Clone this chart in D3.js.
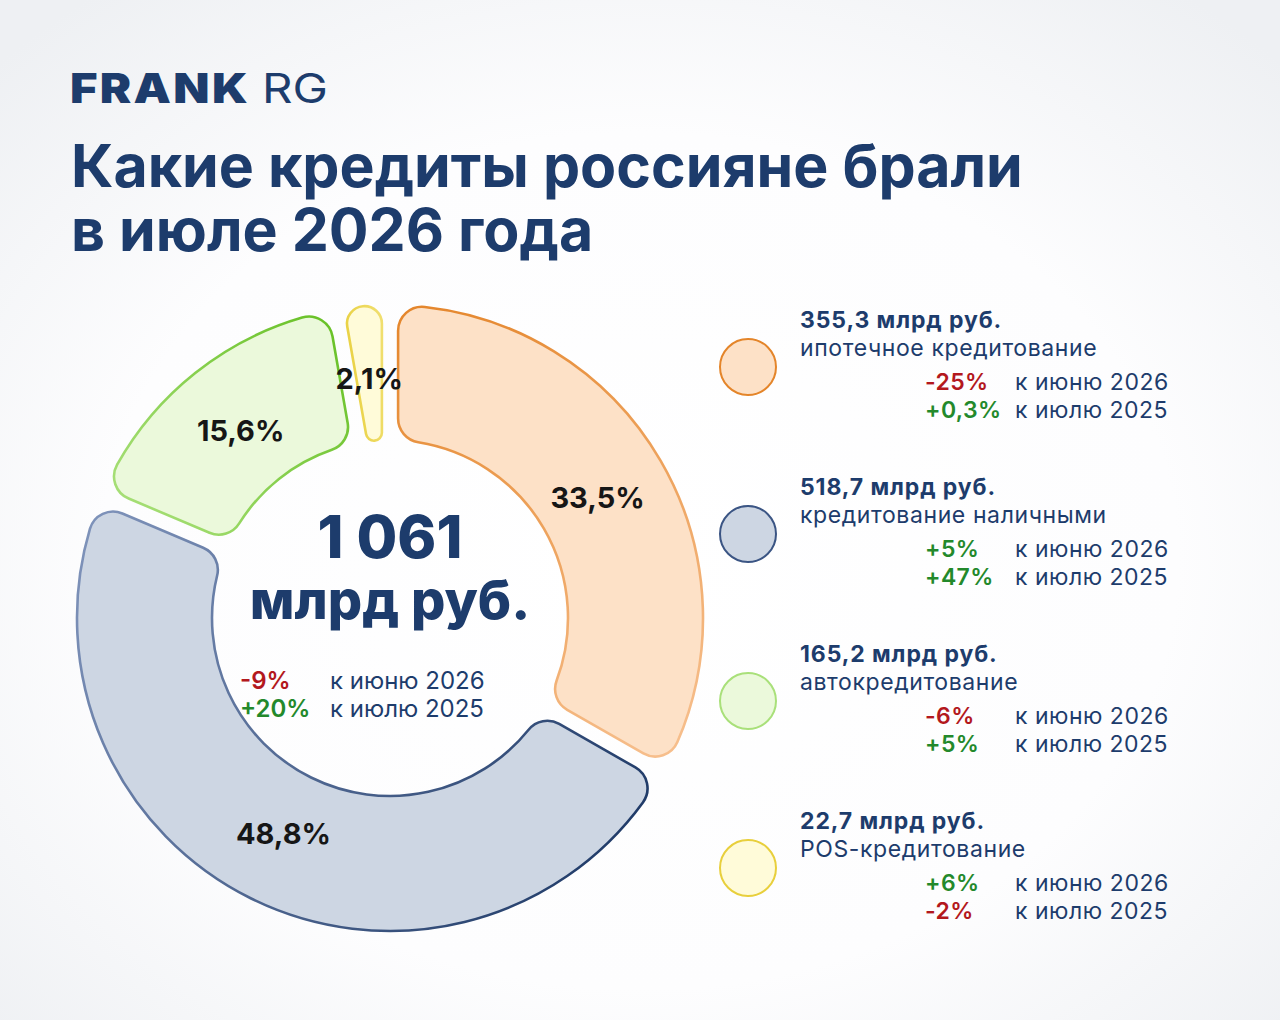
<!DOCTYPE html>
<html>
<head>
<meta charset="utf-8">
<script src="https://cdn.jsdelivr.net/npm/d3@7"></script>
<style>
  html, body { margin: 0; padding: 0; background: #f6f7f9; }
  svg { display: block; font-family: Inter, "Noto Sans", sans-serif; }
</style>
</head>
<body>
<div id="chart"></div>
<script>
// --- data ---
const categories = ["ипотечное кредитование", "кредитование наличными", "автокредитование", "POS-кредитование"];
const shares = [33.5, 48.8, 15.6, 2.1];
const amounts = ["355,3", "518,7", "165,2", "22,7"];
const toJune = ["-25%", "+5%", "-6%", "+6%"];
const toJuly = ["+0,3%", "+47%", "+5%", "-2%"];
const fills = ["#fde1c7", "#cdd6e3", "#ebf9db", "#fffbd9"];
// stroke gradient: [start, end]
const strokes = [["#e4852a", "#f7c08f"], ["#213c69", "#8296bd"], ["#a9e07a", "#66c024"], ["#e8cf3c", "#f2e27a"]];

const total = "1 061";
const totalToJune = "-9%";
const totalToJuly = "+20%";

const navy = "#1d3c6c";
const red = "#b3181d";
const green = "#23892b";

const width = 1280, height = 1020;

const svg = d3.select("#chart")
  .append("svg")
    .attr("width", width)
    .attr("height", height);

// background glow
const defs = svg.append("defs");
const bg = defs.append("radialGradient").attr("id", "bg")
  .attr("cx", "50%").attr("cy", "55%").attr("r", "70%");
bg.append("stop").attr("offset", "0%").attr("stop-color", "#ffffff");
bg.append("stop").attr("offset", "60%").attr("stop-color", "#fdfdfe");
bg.append("stop").attr("offset", "100%").attr("stop-color", "#eef0f3");
svg.append("rect").attr("width", width).attr("height", height).attr("fill", "url(#bg)");

// logo
const logo = svg.append("text")
  .attr("x", 70).attr("y", 103)
  .attr("fill", navy)
  .attr("font-size", 41);
logo.append("tspan").attr("font-weight", 900).attr("letter-spacing", 2)
  .attr("textLength", 180).attr("lengthAdjust", "spacingAndGlyphs").text("FRANK");
logo.append("tspan").attr("font-weight", 400).attr("x", 262)
  .attr("textLength", 66).attr("lengthAdjust", "spacingAndGlyphs").text("RG");

// title
const title = svg.append("text")
  .attr("fill", navy)
  .attr("font-weight", 700)
  .attr("font-size", 59);
title.append("tspan").attr("x", 71).attr("y", 187).text("Какие кредиты россияне брали");
title.append("tspan").attr("x", 71).attr("y", 251).text("в июле 2026 года");

// donut
const cx = 390, cy = 618;
const outerR = 313, innerR = 178;

const pie = d3.pie()
  .sort(null)
  .value(d => d.share)
  .padAngle(0.045);

const rows = categories.map((c, i) => ({
  name: c, share: shares[i], fill: fills[i], stroke: strokes[i]
}));
const arcs = pie(rows);

const arc = d3.arc()
  .innerRadius(innerR)
  .outerRadius(outerR)
  .cornerRadius(24);

const labelR = 240;
const labelArc = d3.arc()
  .innerRadius(labelR)
  .outerRadius(labelR);

// one stroke gradient per slice, from its start angle to its end angle (donut-local coords)
arcs.forEach((d, i) => {
  const a0 = d.startAngle, a1 = d.endAngle;
  const gr = defs.append("linearGradient")
    .attr("id", "st" + i)
    .attr("gradientUnits", "userSpaceOnUse")
    .attr("x1", outerR * Math.sin(a0)).attr("y1", -outerR * Math.cos(a0))
    .attr("x2", outerR * Math.sin(a1)).attr("y2", -outerR * Math.cos(a1));
  gr.append("stop").attr("offset", "0%").attr("stop-color", d.data.stroke[0]);
  gr.append("stop").attr("offset", "100%").attr("stop-color", d.data.stroke[1]);
});
// blue: darker lower-right, lighter upper-left
defs.select("#st1")
  .attr("x1", outerR * 0.8).attr("y1", outerR * 0.6)
  .attr("x2", -outerR).attr("y2", -outerR * 0.4);

const g = svg.append("g").attr("transform", `translate(${cx},${cy})`);

g.selectAll(".slice")
  .data(arcs)
  .enter()
  .append("path")
    .attr("class", "slice")
    .attr("d", arc)
    .attr("fill", d => d.data.fill)
    .attr("stroke", (d, i) => `url(#st${i})`)
    .attr("stroke-width", 2.6);

const fmt = v => String(v).replace(".", ",") + "%";

g.selectAll(".pct")
  .data(arcs)
  .enter()
  .append("text")
    .attr("class", "pct")
    .attr("transform", d => `translate(${labelArc.centroid(d)})`)
    .attr("text-anchor", "middle")
    .attr("dy", "0.36em")
    .attr("font-size", 29)
    .attr("font-weight", 700)
    .attr("fill", "#161616")
    .text(d => fmt(d.data.share));

// center total
g.append("text")
  .attr("text-anchor", "middle")
  .attr("y", -60)
  .attr("font-size", 59)
  .attr("font-weight", 800)
  .attr("fill", navy)
  .text(total);
g.append("text")
  .attr("text-anchor", "middle")
  .attr("y", 1)
  .attr("font-size", 54)
  .attr("font-weight", 800)
  .attr("fill", navy)
  .text("млрд руб.");

const changeRows = [
  { v: totalToJune, label: "к июню 2026" },
  { v: totalToJuly, label: "к июлю 2025" }
];
changeRows.forEach((r, i) => {
  const y = 71 + i * 28;
  g.append("text").attr("x", -150).attr("y", y)
    .attr("font-size", 24).attr("font-weight", 600)
    .attr("fill", r.v.startsWith("-") ? red : green)
    .text(r.v);
  g.append("text").attr("x", -60).attr("y", y)
    .attr("font-size", 24).attr("font-weight", 400)
    .attr("fill", navy)
    .text(r.label);
});

// legend
const legendY = d3.scaleLinear().domain([0, 1]).range([328, 495]);
const legend = svg.selectAll(".legend")
  .data(rows)
  .enter()
  .append("g")
    .attr("class", "legend")
    .attr("transform", (d, i) => `translate(0,${legendY(i)})`);

legend.append("circle")
  .attr("cx", 748).attr("cy", 39).attr("r", 28)
  .attr("fill", d => d.fill)
  .attr("stroke", (d, i) => i === 1 ? "#3b5584" : d.stroke[0])
  .attr("stroke-width", 2);

legend.append("text")
  .attr("x", 800).attr("y", 0)
  .attr("font-size", 23).attr("font-weight", 700)
  .attr("letter-spacing", 0.9)
  .attr("fill", navy)
  .text((d, i) => amounts[i] + " млрд руб.");

legend.append("text")
  .attr("x", 800).attr("y", 28)
  .attr("font-size", 23).attr("font-weight", 400)
  .attr("letter-spacing", 0.6)
  .attr("fill", navy)
  .text(d => d.name);

[toJune, toJuly].forEach((arr, k) => {
  legend.append("text")
    .attr("x", 925).attr("y", 62 + k * 28)
    .attr("font-size", 23).attr("font-weight", 600)
    .attr("letter-spacing", 0.4)
    .attr("fill", (d, i) => arr[i].startsWith("-") ? red : green)
    .text((d, i) => arr[i]);
  legend.append("text")
    .attr("x", 1015).attr("y", 62 + k * 28)
    .attr("font-size", 23).attr("font-weight", 400)
    .attr("letter-spacing", 0.5)
    .attr("fill", navy)
    .text(k === 0 ? "к июню 2026" : "к июлю 2025");
});
</script>
</body>
</html>
